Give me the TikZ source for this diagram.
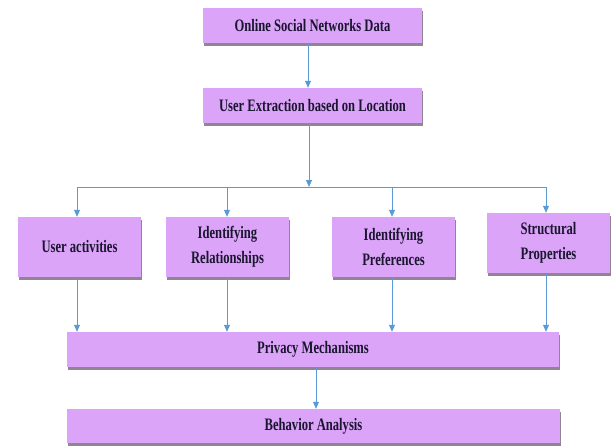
\documentclass[tikz,border=0pt]{standalone}
\usepackage{fontspec}
\setmainfont{Liberation Serif}[FakeStretch=0.72]
\usetikzlibrary{shadows,arrows.meta}
\definecolor{boxfill}{HTML}{DCA4F8}
\definecolor{boxshade}{HTML}{857888}
\definecolor{flow}{HTML}{5B9BD5}
\definecolor{ink}{HTML}{1A1630}
\tikzset{
  stage/.style={draw=none, fill=boxfill, text=ink, font=\bfseries\fontsize{17.5}{25}\selectfont,
    align=center, inner sep=0pt,
    drop shadow={shadow xshift=1pt, shadow yshift=-3pt, fill=boxshade, opacity=0.9}},
  flowline/.style={draw=flow, line width=0.8pt},
  flowarrow/.style={flowline, -{Triangle[length=7pt,width=6pt]}},
}
\begin{document}
\begin{tikzpicture}[x=1pt,y=-1pt]
\useasboundingbox (0,0) rectangle (611,447);
% top of the pipeline
\node[stage, minimum width=219pt, minimum height=35pt] (osn) at (312.5,25.5) {Online Social Networks Data};
\node[stage, minimum width=219pt, minimum height=35pt] (ext) at (312.5,105.5) {User Extraction based on Location};
% the four analysis branches
\node[stage, minimum width=123pt, minimum height=60pt] (act) at (79.5,247) {User activities};
\node[stage, minimum width=123pt, minimum height=60pt] (rel) at (227.5,247) {Identifying\\Relationships};
\node[stage, minimum width=123pt, minimum height=60pt] (pref) at (393.5,247) {Identifying\\Preferences};
\node[stage, minimum width=123pt, minimum height=60pt] (str) at (548.5,243) {Structural\\Properties};
% merge and result
\node[stage, minimum width=492pt, minimum height=35pt] (priv) at (313,349.5) {Privacy Mechanisms};
\node[stage, minimum width=493pt, minimum height=34pt] (beh) at (313.5,426) {Behavior Analysis};
% distribution bus and the columns the arrows run in
\coordinate (bus) at (309,187);
\coordinate (colA) at (77,187);
\coordinate (colB) at (227,187);
\coordinate (colC) at (392,187);
\coordinate (colD) at (546,187);
\draw[flowarrow] ([xshift=-4.5pt]osn.south) -- ([xshift=-4.5pt]ext.north);
\draw[flowarrow] (ext.south -| bus) -- (bus);
\draw[flowline] (colA) -- (colD);
\draw[flowarrow] (colA) -- (colA |- act.north);
\draw[flowarrow] (colB) -- (colB |- rel.north);
\draw[flowarrow] (colC) -- (colC |- pref.north);
\draw[flowarrow] (colD) -- (colD |- str.north);
% branches into the privacy stage
\draw[flowarrow] (colA |- act.south) -- (colA |- priv.north);
\draw[flowarrow] (colB |- rel.south) -- (colB |- priv.north);
\draw[flowarrow] (colC |- pref.south) -- (colC |- priv.north);
\draw[flowarrow] (colD |- str.south) -- (colD |- priv.north);
\draw[flowarrow] ([xshift=3pt]priv.south) -- ([xshift=2.5pt]beh.north);
\end{tikzpicture}
\end{document}
